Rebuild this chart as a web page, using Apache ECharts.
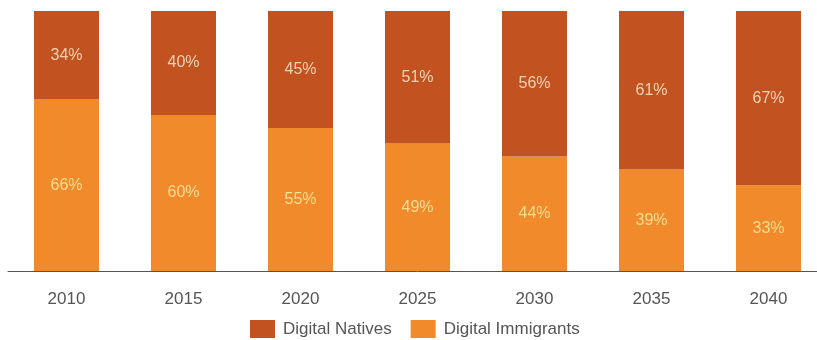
<!DOCTYPE html>
<html>
<head>
<meta charset="utf-8">
<script src="https://cdn.jsdelivr.net/npm/echarts@6/dist/echarts.min.js"></script>
<style>
  html, body { margin: 0; padding: 0; background: #fff; overflow: hidden; }
  #chart { width: 827px; height: 340px; }
</style>
</head>
<body>
<div id="chart"></div>
<script>
// Share of population by generation, per year (percent)
const years = ['2010', '2015', '2020', '2025', '2030', '2035', '2040'];
const digitalNatives = [34, 40, 45, 51, 56, 61, 67];
const digitalImmigrants = [66, 60, 55, 49, 44, 39, 33];

const FONT = '"Liberation Sans", Arial, sans-serif';

const chart = echarts.init(document.getElementById('chart'), null, { renderer: 'canvas' });

function pctLabel(color) {
  return {
    show: true,
    position: 'inside',
    formatter: '{c}%',
    color: color,
    fontFamily: FONT,
    fontSize: 16
  };
}

chart.setOption({
  animation: false,
  backgroundColor: '#ffffff',
  grid: { left: 8, right: 0, top: 11, bottom: 69, containLabel: false },
  legend: {
    data: ['Digital Natives', 'Digital Immigrants'],
    left: 250,
    top: 320,
    padding: 0,
    itemWidth: 25,
    itemHeight: 18,
    itemGap: 19,
    textStyle: { color: '#555', fontFamily: FONT, fontSize: 17, padding: [0, 0, 0, 3] },
    icon: 'rect'
  },
  xAxis: {
    type: 'category',
    data: years,
    axisLine: { show: true, lineStyle: { color: '#555', width: 1 } },
    axisTick: { show: false },
    axisLabel: { color: '#555', fontFamily: FONT, fontSize: 17, margin: 20 }
  },
  yAxis: {
    type: 'value',
    min: 0,
    max: 100,
    show: false,
    splitLine: { show: false }
  },
  series: [
    {
      name: 'Digital Immigrants',
      type: 'bar',
      stack: 'share',
      barWidth: 65,
      data: digitalImmigrants,
      itemStyle: { color: '#F08A2A' },
      label: pctLabel('#F6DE95')
    },
    {
      name: 'Digital Natives',
      type: 'bar',
      stack: 'share',
      barWidth: 65,
      data: digitalNatives,
      itemStyle: { color: '#C2521F' },
      label: pctLabel('#F3D3B4')
    }
  ]
});
</script>
</body>
</html>
